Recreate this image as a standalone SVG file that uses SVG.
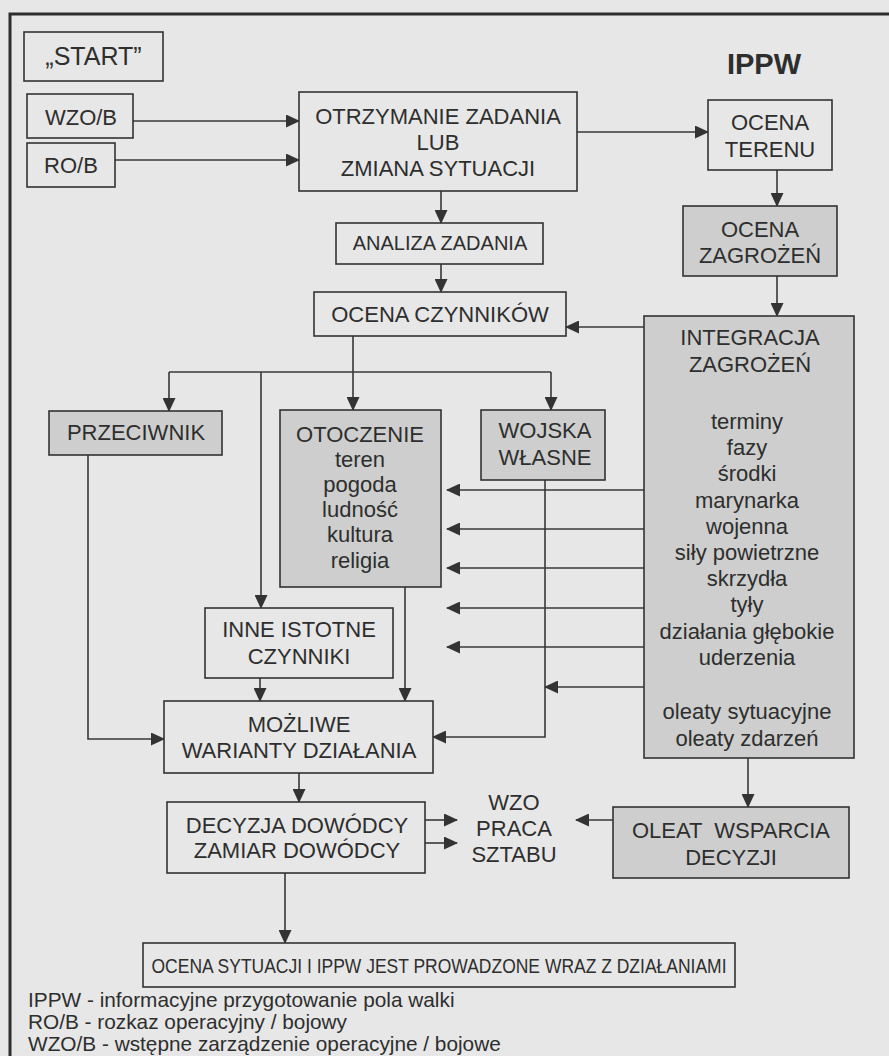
<svg xmlns="http://www.w3.org/2000/svg" width="889" height="1056" viewBox="0 0 889 1056">
<defs>
<style>
.bx{fill:#e6e7e6;stroke:#333;stroke-width:1.6}
.gr{fill:#cdcecd;stroke:#333;stroke-width:1.6}
.t{font-family:"Liberation Sans",Arial,sans-serif;font-size:22px;fill:#2e2e2e;text-anchor:middle}
.s{font-size:20px}
.lg{font-family:"Liberation Sans",Arial,sans-serif;font-size:20.8px;fill:#2e2e2e}
.c{fill:none;stroke:#383838;stroke-width:1.6}
.a{marker-end:url(#ah)}
</style>
<marker id="ah" markerUnits="userSpaceOnUse" markerWidth="14" markerHeight="13" refX="13" refY="6.5" orient="auto">
<path d="M0,0 L14,6.5 L0,13 z" fill="#333"/>
</marker>
</defs>
<rect x="0" y="0" width="889" height="1056" fill="#e6e7e6"/>
<path d="M10,1056 V14 H889" fill="none" stroke="#2e2e2e" stroke-width="3"/>

<g id="connectors">
<path class="c a" d="M133,121 H299"/>
<path class="c a" d="M115,160 H299"/>
<path class="c a" d="M577,132 H708"/>
<path class="c a" d="M441,191 V223"/>
<path class="c a" d="M441,264 V292"/>
<path class="c a" d="M777,170 V206"/>
<path class="c a" d="M777,276 V316"/>
<path class="c a" d="M644,327 H566"/>
<path class="c" d="M169,372 H551"/>
<path class="c a" d="M353,336 V410"/>
<path class="c a" d="M169,372 V411"/>
<path class="c a" d="M261,372 V608"/>
<path class="c a" d="M551,372 V410"/>
<path class="c a" d="M644,490 H447"/>
<path class="c a" d="M644,529 H447"/>
<path class="c a" d="M644,568 H447"/>
<path class="c a" d="M644,608 H447"/>
<path class="c a" d="M644,647 H447"/>
<path class="c a" d="M644,687 H545"/>
<path class="c a" d="M545,480 V737 H433"/>
<path class="c a" d="M405,587 V701"/>
<path class="c a" d="M260,678 V701"/>
<path class="c a" d="M88,455 V739 H164"/>
<path class="c a" d="M299,773 V802"/>
<path class="c a" d="M425,820 H457"/>
<path class="c a" d="M425,843 H457"/>
<path class="c a" d="M748,758 V807"/>
<path class="c a" d="M613,820 H576"/>
<path class="c a" d="M285,873 V943"/>
</g>

<g id="start"><rect class="bx" x="24" y="32" width="139" height="49"/><text class="t" x="93.5" y="65" style="font-size:25px">„START”</text></g>
<g id="wzob"><rect class="bx" x="27" y="94" width="106" height="44"/><text class="t" x="81" y="125">WZO/B</text></g>
<g id="rob"><rect class="bx" x="27" y="143" width="88" height="44"/><text class="t" x="71" y="173">RO/B</text></g>
<g id="ippw-title"><text class="t" x="764" y="74" style="font-size:29px;font-weight:bold">IPPW</text></g>
<g id="otrzymanie"><rect class="bx" x="299" y="92" width="278" height="99"/>
<text class="t" x="438" y="124">OTRZYMANIE ZADANIA</text><text class="t" x="438" y="150">LUB</text><text class="t" x="438" y="176">ZMIANA SYTUACJI</text></g>
<g id="ocena-terenu"><rect class="bx" x="708" y="100" width="124" height="70"/>
<text class="t" x="770" y="130">OCENA</text><text class="t" x="770" y="157">TERENU</text></g>
<g id="analiza"><rect class="bx" x="336" y="223" width="207" height="41"/><text class="t s" x="440" y="250">ANALIZA ZADANIA</text></g>
<g id="ocena-zagrozen"><rect class="gr" x="683" y="206" width="154" height="70"/>
<text class="t" x="760" y="237">OCENA</text><text class="t" x="760" y="263">ZAGROŻEŃ</text></g>
<g id="ocena-czynnikow"><rect class="bx" x="314" y="292" width="252" height="44"/><text class="t" x="440" y="322">OCENA CZYNNIKÓW</text></g>
<g id="integracja"><rect class="gr" x="644" y="316" width="210" height="442"/>
<text class="t" x="750" y="345">INTEGRACJA</text><text class="t" x="750" y="372">ZAGROŻEŃ</text>
<text class="t" x="747" y="429">terminy</text>
<text class="t" x="747" y="455">fazy</text>
<text class="t" x="747" y="481">środki</text>
<text class="t" x="747" y="508">marynarka</text>
<text class="t" x="747" y="534">wojenna</text>
<text class="t" x="747" y="560">siły powietrzne</text>
<text class="t" x="747" y="586">skrzydła</text>
<text class="t" x="747" y="612">tyły</text>
<text class="t" x="747" y="639">działania głębokie</text>
<text class="t" x="747" y="665">uderzenia</text>
<text class="t" x="747" y="719">oleaty sytuacyjne</text>
<text class="t" x="747" y="746">oleaty zdarzeń</text></g>
<g id="przeciwnik"><rect class="gr" x="49" y="411" width="173" height="44"/><text class="t" x="136" y="440">PRZECIWNIK</text></g>
<g id="otoczenie"><rect class="gr" x="280" y="410" width="161" height="177"/>
<text class="t" x="360" y="442">OTOCZENIE</text>
<text class="t" x="360" y="467">teren</text>
<text class="t" x="360" y="492">pogoda</text>
<text class="t" x="360" y="517">ludność</text>
<text class="t" x="360" y="542">kultura</text>
<text class="t" x="360" y="568">religia</text></g>
<g id="wojska"><rect class="gr" x="481" y="410" width="124" height="70"/>
<text class="t" x="545" y="438">WOJSKA</text><text class="t" x="545" y="465">WŁASNE</text></g>
<g id="inne"><rect class="bx" x="205" y="608" width="188" height="70"/>
<text class="t" x="299" y="637">INNE ISTOTNE</text><text class="t" x="299" y="664">CZYNNIKI</text></g>
<g id="mozliwe"><rect class="bx" x="164" y="701" width="269" height="72"/>
<text class="t" x="299" y="732">MOŻLIWE</text><text class="t" x="299" y="758">WARIANTY DZIAŁANIA</text></g>
<g id="decyzja"><rect class="bx" x="167" y="802" width="258" height="71"/>
<text class="t" x="297" y="833">DECYZJA DOWÓDCY</text><text class="t" x="297" y="858">ZAMIAR DOWÓDCY</text></g>
<g id="wzo-praca"><text class="t" x="514" y="810">WZO</text><text class="t" x="514" y="836">PRACA</text><text class="t" x="514" y="862">SZTABU</text></g>
<g id="oleat"><rect class="gr" x="613" y="807" width="236" height="71"/>
<text class="t" x="731" y="838" xml:space="preserve">OLEAT  WSPARCIA</text><text class="t" x="731" y="865">DECYZJI</text></g>
<g id="ocena-sytuacji"><rect class="bx" x="143" y="943" width="592" height="44"/>
<text class="t" x="439" y="973" style="font-size:21px" textLength="575" lengthAdjust="spacingAndGlyphs">OCENA SYTUACJI I IPPW JEST PROWADZONE WRAZ Z DZIAŁANIAMI</text></g>
<g id="legend">
<text class="lg" x="28" y="1007">IPPW - informacyjne przygotowanie pola walki</text>
<text class="lg" x="28" y="1029">RO/B - rozkaz operacyjny / bojowy</text>
<text class="lg" x="28" y="1051">WZO/B - wstępne zarządzenie operacyjne / bojowe</text>
</g>
</svg>
